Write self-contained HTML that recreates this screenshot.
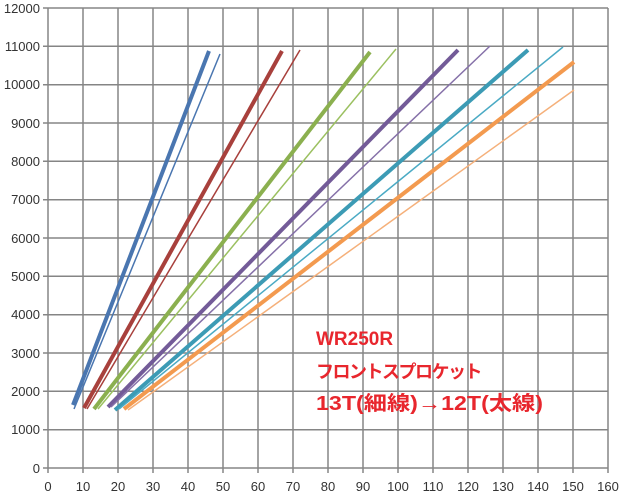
<!DOCTYPE html>
<html><head><meta charset="utf-8"><style>
html,body{margin:0;padding:0;background:#fff;}
svg{display:block;}
</style></head><body>
<svg width="640" height="498" viewBox="0 0 640 498" xmlns="http://www.w3.org/2000/svg">
<g stroke="#858585" stroke-width="1.5">
<line x1="43" y1="8" x2="608" y2="8"/>
<line x1="43" y1="46.3" x2="608" y2="46.3"/>
<line x1="43" y1="84.7" x2="608" y2="84.7"/>
<line x1="43" y1="123" x2="608" y2="123"/>
<line x1="43" y1="161.3" x2="608" y2="161.3"/>
<line x1="43" y1="199.7" x2="608" y2="199.7"/>
<line x1="43" y1="238" x2="608" y2="238"/>
<line x1="43" y1="276.3" x2="608" y2="276.3"/>
<line x1="43" y1="314.7" x2="608" y2="314.7"/>
<line x1="43" y1="353" x2="608" y2="353"/>
<line x1="43" y1="391.3" x2="608" y2="391.3"/>
<line x1="43" y1="429.7" x2="608" y2="429.7"/>
<line x1="43" y1="468" x2="608" y2="468"/>
<line x1="48" y1="8" x2="48" y2="473"/>
<line x1="83" y1="8" x2="83" y2="473"/>
<line x1="118" y1="8" x2="118" y2="473"/>
<line x1="153" y1="8" x2="153" y2="473"/>
<line x1="188" y1="8" x2="188" y2="473"/>
<line x1="223" y1="8" x2="223" y2="473"/>
<line x1="258" y1="8" x2="258" y2="473"/>
<line x1="293" y1="8" x2="293" y2="473"/>
<line x1="328" y1="8" x2="328" y2="473"/>
<line x1="363" y1="8" x2="363" y2="473"/>
<line x1="398" y1="8" x2="398" y2="473"/>
<line x1="433" y1="8" x2="433" y2="473"/>
<line x1="468" y1="8" x2="468" y2="473"/>
<line x1="503" y1="8" x2="503" y2="473"/>
<line x1="538" y1="8" x2="538" y2="473"/>
<line x1="573" y1="8" x2="573" y2="473"/>
<line x1="608" y1="8" x2="608" y2="473"/>
</g>
<g font-family="Liberation Sans, sans-serif" font-size="13" fill="#333" text-anchor="end">
<text x="40" y="13">12000</text><text x="40" y="51">11000</text><text x="40" y="89">10000</text>
<text x="40" y="128">9000</text><text x="40" y="166">8000</text><text x="40" y="204">7000</text>
<text x="40" y="243">6000</text><text x="40" y="281">5000</text><text x="40" y="319">4000</text>
<text x="40" y="358">3000</text><text x="40" y="396">2000</text><text x="40" y="434">1000</text>
<text x="40" y="473">0</text>
</g>
<g font-family="Liberation Sans, sans-serif" font-size="13" fill="#333" text-anchor="middle">
<text x="48" y="491">0</text><text x="83" y="491">10</text><text x="118" y="491">20</text><text x="153" y="491">30</text>
<text x="188" y="491">40</text><text x="223" y="491">50</text><text x="258" y="491">60</text><text x="293" y="491">70</text>
<text x="328" y="491">80</text><text x="363" y="491">90</text><text x="398" y="491">100</text><text x="433" y="491">110</text>
<text x="468" y="491">120</text><text x="503" y="491">130</text><text x="538" y="491">140</text><text x="573" y="491">150</text>
<text x="608" y="491">160</text>
</g>
<g fill="none" stroke-linecap="butt">
<line x1="73" y1="405" x2="209" y2="51" stroke="#4a76b0" stroke-width="4"/>
<line x1="74" y1="409" x2="220" y2="54" stroke="#4a76b0" stroke-width="1.5"/>
<line x1="84" y1="408" x2="282" y2="51" stroke="#a8403c" stroke-width="4"/>
<line x1="87" y1="409" x2="300" y2="50" stroke="#a8403c" stroke-width="1.5"/>
<line x1="94" y1="409" x2="370" y2="52" stroke="#8bb04f" stroke-width="4"/>
<line x1="98" y1="409" x2="396" y2="49" stroke="#9bc060" stroke-width="1.5"/>
<line x1="108" y1="407" x2="458" y2="50" stroke="#735b98" stroke-width="4"/>
<line x1="111" y1="407" x2="490" y2="46" stroke="#8570a8" stroke-width="1.5"/>
<line x1="115" y1="410" x2="528" y2="50" stroke="#3c9bb5" stroke-width="4"/>
<line x1="119" y1="409" x2="563" y2="47" stroke="#4aaac4" stroke-width="1.5"/>
<line x1="124" y1="409" x2="574" y2="62" stroke="#f39a4f" stroke-width="4"/>
<line x1="128" y1="410" x2="574" y2="90" stroke="#f5b07a" stroke-width="1.5"/>
</g>
<g font-family="Liberation Sans, 'Noto Sans CJK JP', sans-serif" font-weight="bold" fill="#e8262d">
<text x="316" y="345" font-size="19">WR250R</text>
<text x="316" y="378" font-size="18" letter-spacing="-1.5">フロントスプロケット</text>
<text x="316" y="410" font-size="20" textLength="227" lengthAdjust="spacingAndGlyphs">13T(細線)→12T(太線)</text>
</g>
</svg>
</body></html>
